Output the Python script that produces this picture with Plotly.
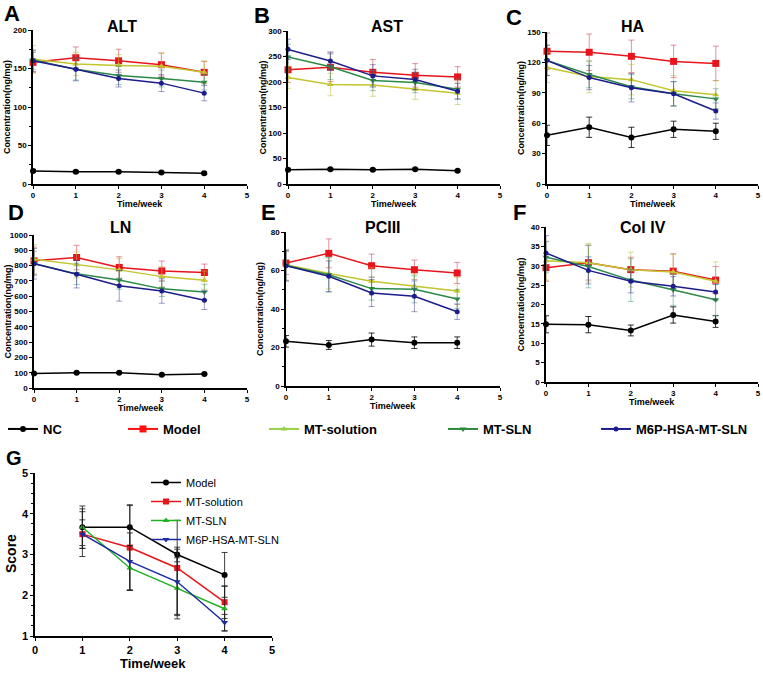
import plotly.graph_objects as go

W, H = 763, 674

WEEKS = [0, 1, 2, 3, 4]
G_WEEKS = [1, 2, 3, 4]
GROUPS = ["NC", "Model", "MT-solution", "MT-SLN", "M6P-HSA-MT-SLN"]
G_GROUPS = ["Model", "MT-solution", "MT-SLN", "M6P-HSA-MT-SLN"]

# A - ALT
ALT_MEAN = [
    [17, 16, 16, 15, 14],
    [158, 164, 160, 155, 145],
    [162, 156, 154, 153, 145],
    [161, 149, 141, 137, 132],
    [160, 149, 137, 131, 118],
]
ALT_ERR = [
    [2, 1.5, 1.5, 1.5, 1.5],
    [13, 14, 15, 15, 14],
    [18, 15, 14, 17, 15],
    [12, 14, 12, 11, 10],
    [14, 15, 11, 11, 10],
]
# B - AST
AST_MEAN = [
    [28, 29, 28, 29, 26],
    [224, 229, 219, 213, 210],
    [209, 195, 194, 186, 178],
    [249, 230, 203, 199, 186],
    [264, 241, 212, 205, 182],
]
AST_ERR = [
    [2, 2, 2, 2, 2],
    [25, 28, 25, 23, 20],
    [22, 22, 22, 20, 22],
    [25, 25, 20, 20, 20],
    [20, 18, 22, 20, 15],
]
# C - HA
HA_MEAN = [
    [48, 56, 46, 54, 52],
    [131, 130, 126, 121, 119],
    [115, 106, 103, 92, 88],
    [122, 108, 96, 89, 84],
    [122, 105, 95, 89, 72],
]
HA_ERR = [
    [10, 10, 10, 8, 8],
    [18, 18, 16, 16, 17],
    [15, 16, 15, 15, 14],
    [15, 13, 12, 12, 10],
    [15, 12, 14, 12, 8],
]
# D - LN
LN_MEAN = [
    [94, 100, 100, 86, 92],
    [831, 853, 788, 765, 755],
    [842, 805, 772, 728, 705],
    [814, 746, 706, 648, 628],
    [812, 744, 668, 634, 573],
]
LN_ERR = [
    [5, 5, 5, 5, 5],
    [90, 80, 70, 65, 55],
    [95, 85, 75, 65, 60],
    [80, 70, 60, 50, 50],
    [100, 90, 100, 80, 60],
]
# E - PCIII
PCIII_MEAN = [
    [23.2, 21.3, 24.1, 22.5, 22.5],
    [63.9, 68.9, 62.5, 60.4, 58.7],
    [63.0, 58.4, 54.4, 52.0, 49.4],
    [62.6, 57.8, 50.6, 50.2, 45.2],
    [62.5, 57.0, 48.3, 46.6, 38.6],
]
PCIII_ERR = [
    [3, 2.3, 3.4, 3, 3],
    [6, 7.5, 6, 5, 5.5],
    [8, 8, 7, 6, 7],
    [8, 9, 6, 7, 5],
    [8, 8, 7, 8, 4],
]
# F - Col IV
COL4_MEAN = [
    [14.9, 14.8, 13.3, 17.3, 15.6],
    [29.5, 30.8, 29.0, 28.6, 26.3],
    [31.3, 30.8, 29.0, 28.4, 26.0],
    [32.2, 29.8, 26.3, 23.8, 21.2],
    [33.3, 28.8, 26.0, 24.7, 23.2],
]
COL4_ERR = [
    [2.2, 2.1, 1.4, 2.1, 1.5],
    [3.5, 4.5, 3.2, 4.5, 3.5],
    [5, 5, 4.5, 4.5, 5],
    [4, 5.5, 5.5, 4, 4],
    [4.5, 3.5, 3, 2.5, 2],
]
# G - Score
SCORE_MEAN = [
    [3.67, 3.67, 3.0, 2.5],
    [3.5, 3.17, 2.67, 1.83],
    [3.67, 2.67, 2.17, 1.67],
    [3.5, 2.83, 2.33, 1.33],
]
SCORE_ERR = [
    [0.52, 0.53, 0.18, 0.55],
    [0.55, 1.05, 1.17, 0.4],
    [0.45, 0.55, 0.75, 0.55],
    [0.35, 0.7, 0.8, 0.2],
]

COLORS = ["#000000", "#e8141c", "#c2c52e", "#2b8a48", "#1c1c8c"]
LEGEND_COLORS = ["#000000", "#ff1010", "#99d04a", "#2b8a3a", "#1c1c8c"]
ERR_COLORS = ["rgba(0,0,0,0.8)", "rgba(200,60,80,0.55)", "rgba(190,190,60,0.55)",
              "rgba(60,150,120,0.5)", "rgba(60,60,150,0.5)"]
SYMBOLS = ["circle", "square", "triangle-up", "triangle-down", "circle"]
SIZES = [6, 7, 6, 6, 5]
G_COLORS = ["#000000", "#e8141c", "#22b022", "#1c2aa0"]
G_SYMBOLS = ["circle", "square", "triangle-up", "triangle-down"]

FONT = "Arial, Liberation Sans, sans-serif"


def px_x(p):
    return p / W


def px_y(p):
    return 1 - p / H


def label(text, x, y, size, bold=True, angle=0):
    return dict(text=text, x=px_x(x), y=px_y(y), xref="paper", yref="paper",
                xanchor="center", yanchor="middle", showarrow=False, textangle=angle,
                font=dict(family=FONT, size=size, color="black",
                          weight="bold" if bold else "normal"))


# panels: (title, letter, means, errs, ymax, dtick, minor, box px (x0, x1, ytop, ybottom), title pos, letter pos)
PANELS = [
    ("ALT", "A", ALT_MEAN, ALT_ERR, 200, 50, 25, (33, 247, 30, 184), (122, 27), (12, 13)),
    ("AST", "B", AST_MEAN, AST_ERR, 300, 50, None, (288, 500, 31, 184), (387, 27), (262, 15)),
    ("HA", "C", HA_MEAN, HA_ERR, 150, 30, None, (547, 758, 32, 184), (633, 27), (514, 17)),
    ("LN", "D", LN_MEAN, LN_ERR, 1000, 100, None, (34, 247, 235, 388), (120, 227), (16, 212)),
    ("PCIII", "E", PCIII_MEAN, PCIII_ERR, 80, 20, 10, (286, 500, 232, 386), (383, 227), (268, 213)),
    ("Col IV", "F", COL4_MEAN, COL4_ERR, 40, 5, None, (546, 758, 227, 382), (643, 227), (519, 213)),
]

fig = go.Figure()
annotations = []
tick_font = dict(family=FONT, size=8, color="black", weight="bold")

for i, (title, letter, means, errs, ymax, dtick, minor, box, tpos, lpos) in enumerate(PANELS):
    n = i + 1
    xa = "x" if n == 1 else f"x{n}"
    ya = "y" if n == 1 else f"y{n}"
    for g in range(5):
        fig.add_trace(go.Scatter(
            x=WEEKS, y=means[g], name=GROUPS[g], mode="lines+markers",
            line=dict(color=COLORS[g], width=1.5),
            marker=dict(symbol=SYMBOLS[g], size=SIZES[g], color=COLORS[g]),
            error_y=dict(type="data", array=errs[g], color=ERR_COLORS[g], thickness=1, width=3),
            xaxis=xa, yaxis=ya, cliponaxis=False, showlegend=False,
        ))
    x0, x1, yt, yb = box
    axis_common = dict(showline=True, linecolor="black", linewidth=1.5, ticks="outside",
                       ticklen=3, tickwidth=1.2, tickcolor="black", showgrid=False,
                       zeroline=False, tickfont=tick_font)
    fig.layout[f"xaxis{'' if n == 1 else n}"] = dict(
        domain=[px_x(x0), px_x(x1)], anchor=ya, range=[0, 5], dtick=1, **axis_common)
    yax = dict(domain=[px_y(yb), px_y(yt)], anchor=xa, range=[0, ymax], dtick=dtick, **axis_common)
    if minor:
        yax["minor"] = dict(dtick=minor, ticks="outside", ticklen=2, tickcolor="black")
    fig.layout[f"yaxis{'' if n == 1 else n}"] = yax
    annotations.append(label(title, tpos[0], tpos[1], 16))
    annotations.append(label(letter, lpos[0], lpos[1], 22))
    annotations.append(label("Time/week", (x0 + x1) / 2, yb + 20, 9))
    annotations.append(label("Concentration(ng/mg)", x0 - 26, (yt + yb) / 2, 9, angle=-90))

# top legend: legend-only traces, one legend box per group at its own position
LEGEND_X = [3, 123, 264, 443, 596]
for g in range(5):
    key = "legend" if g == 0 else f"legend{g + 1}"
    fig.add_trace(go.Scatter(
        x=[None], y=[None], name=GROUPS[g], mode="lines+markers",
        line=dict(color=LEGEND_COLORS[g], width=2),
        marker=dict(symbol=SYMBOLS[g], size=SIZES[g], color=LEGEND_COLORS[g]),
        xaxis="x", yaxis="y", showlegend=True, legend=key,
    ))
    fig.layout[key] = dict(x=px_x(LEGEND_X[g]), y=px_y(429), xanchor="left", yanchor="middle",
                           orientation="h", bgcolor="rgba(0,0,0,0)", itemwidth=30,
                           font=dict(family=FONT, size=13, color="black", weight="bold"))

# panel G
for g in range(4):
    fig.add_trace(go.Scatter(
        x=G_WEEKS, y=SCORE_MEAN[g], name=G_GROUPS[g], mode="lines+markers",
        line=dict(color=G_COLORS[g], width=1.5),
        marker=dict(symbol=G_SYMBOLS[g], size=6, color=G_COLORS[g]),
        error_y=dict(type="data", array=SCORE_ERR[g], color="rgba(30,30,30,0.85)", thickness=1, width=3),
        xaxis="x7", yaxis="y7", cliponaxis=False, legend="legend6", showlegend=True,
    ))

g_axis = dict(showline=True, linecolor="black", linewidth=1.5, ticks="outside", ticklen=3,
              tickwidth=1.2, tickcolor="black", showgrid=False, zeroline=False,
              tickfont=dict(family=FONT, size=11, color="black", weight="bold"))
fig.layout["xaxis7"] = dict(domain=[px_x(35), px_x(272)], anchor="y7", range=[0, 5], dtick=1, **g_axis)
fig.layout["yaxis7"] = dict(domain=[px_y(636), px_y(473)], anchor="x7", range=[1, 5], dtick=1,
                            minor=dict(dtick=0.25, ticks="outside", ticklen=2, tickcolor="black"),
                            **g_axis)
fig.layout["legend6"] = dict(x=px_x(146), y=px_y(468), xanchor="left", yanchor="top",
                             bgcolor="rgba(0,0,0,0)", tracegroupgap=0, itemwidth=30,
                             font=dict(family=FONT, size=11, color="black"))
annotations.append(label("G", 14, 458, 20))
annotations.append(label("Time/week", 153, 663, 13))
annotations.append(label("Score", 11, 554, 14, angle=-90))

fig.update_layout(
    width=W, height=H,
    margin=dict(l=0, r=0, t=0, b=0, autoexpand=False),
    paper_bgcolor="white", plot_bgcolor="white",
    font=dict(family=FONT, color="black"),
    annotations=annotations,
)

# drop the browser's default 8px body margin so the figure fills the window
fig.write_html("out.html", config={"displayModeBar": False},
               post_script="document.body.style.margin='0px';")
